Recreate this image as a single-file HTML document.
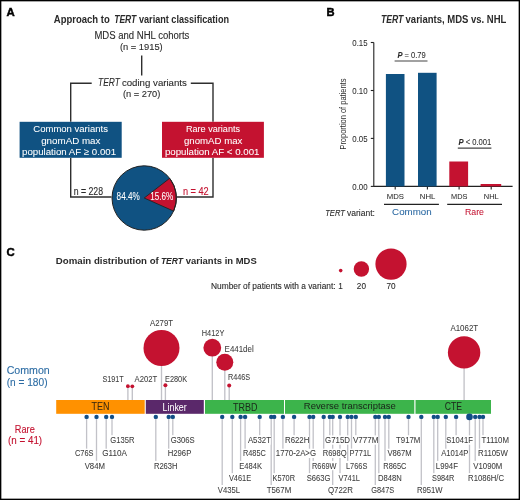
<!DOCTYPE html>
<html><head><meta charset="utf-8"><style>
html,body{margin:0;padding:0;background:#fff;}
svg{display:block;filter:blur(0.35px);}
text{font-family:"Liberation Sans", sans-serif;}
</style></head><body>
<svg width="520" height="500" viewBox="0 0 520 500">
<rect width="520" height="500" fill="#fff"/>
<text x="6.6" y="16.1" font-size="11.4" fill="#000" stroke="#000" stroke-width="0.45" font-weight="bold">A</text>
<text x="53.8" y="22.5" font-size="10" font-weight="bold" fill="#2a2a2a" textLength="56.0" lengthAdjust="spacingAndGlyphs">Approach to</text>
<text x="114.2" y="22.5" font-size="10" font-weight="bold" font-style="italic" fill="#2a2a2a" textLength="22.1" lengthAdjust="spacingAndGlyphs">TERT</text>
<text x="139" y="22.5" font-size="10" font-weight="bold" fill="#2a2a2a" textLength="90" lengthAdjust="spacingAndGlyphs">variant classification</text>
<text x="94.4" y="38.9" font-size="10" fill="#2a2a2a" stroke="#2a2a2a" stroke-width="0.1" textLength="95" lengthAdjust="spacingAndGlyphs">MDS and NHL cohorts</text>
<text x="119.9" y="50.2" font-size="9.6" fill="#2a2a2a" stroke="#2a2a2a" stroke-width="0.1" textLength="42.8" lengthAdjust="spacingAndGlyphs">(n = 1915)</text>
<g stroke="#2e2e2e" stroke-width="1.4" fill="none">
<path d="M141.7 55.5 V75.5"/>
<path d="M70.7 121.8 V83.3 H91.7"/>
<path d="M190.8 83.3 H213 V121.8"/>
<path d="M70.7 157.8 V197 H111.5"/>
<path d="M213 157.8 V197 H176.8"/>
</g>
<text x="98.1" y="86.4" font-size="10.4" font-style="italic" fill="#2a2a2a" stroke="#2a2a2a" stroke-width="0.1" textLength="21.7" lengthAdjust="spacingAndGlyphs">TERT</text>
<text x="121.9" y="86.4" font-size="9.8" fill="#2a2a2a" stroke="#2a2a2a" stroke-width="0.1" textLength="65.0" lengthAdjust="spacingAndGlyphs">coding variants</text>
<text x="122.9" y="96.5" font-size="9.6" fill="#2a2a2a" stroke="#2a2a2a" stroke-width="0.1" textLength="37.5" lengthAdjust="spacingAndGlyphs">(n = 270)</text>
<rect x="19.6" y="121.8" width="102.1" height="36" fill="#105282"/>
<rect x="162" y="121.8" width="101.9" height="36" fill="#c41230"/>
<text x="33.3" y="132.4" font-size="9.5" fill="#fff" stroke="#fff" stroke-width="0.06" textLength="74.6" lengthAdjust="spacingAndGlyphs">Common variants</text>
<text x="41.2" y="143.5" font-size="9.5" fill="#fff" stroke="#fff" stroke-width="0.06" textLength="59.2" lengthAdjust="spacingAndGlyphs">gnomAD max</text>
<text x="22" y="154.5" font-size="9.5" fill="#fff" stroke="#fff" stroke-width="0.06" textLength="94.1" lengthAdjust="spacingAndGlyphs">population AF ≥ 0.001</text>
<text x="185.9" y="132.4" font-size="9.5" fill="#fff" stroke="#fff" stroke-width="0.06" textLength="54.2" lengthAdjust="spacingAndGlyphs">Rare variants</text>
<text x="184" y="143.5" font-size="9.5" fill="#fff" stroke="#fff" stroke-width="0.06" textLength="58.4" lengthAdjust="spacingAndGlyphs">gnomAD max</text>
<text x="164.9" y="154.5" font-size="9.5" fill="#fff" stroke="#fff" stroke-width="0.06" textLength="94.6" lengthAdjust="spacingAndGlyphs">population AF &lt; 0.001</text>
<text x="73.7" y="194.5" font-size="10.2" fill="#2a2a2a" stroke="#2a2a2a" stroke-width="0.1" textLength="29.4" lengthAdjust="spacingAndGlyphs">n = 228</text>
<text x="182.9" y="194.5" font-size="10.2" fill="#c41230" stroke="#c41230" stroke-width="0.1" textLength="25.8" lengthAdjust="spacingAndGlyphs">n = 42</text>
<circle cx="144.2" cy="198" r="32.2" fill="#105282"/>
<path d="M144.2 198 L169.68 178.31 A32.2 32.2 0 0 1 173.62 211.10 Z" fill="#c41230" stroke="#222" stroke-width="0.9" stroke-linejoin="miter"/>
<circle cx="144.2" cy="198" r="32.2" fill="none" stroke="#222" stroke-width="1"/>
<text x="116.6" y="199.9" font-size="10.2" fill="#fff" stroke="#fff" stroke-width="0.06" textLength="23.2" lengthAdjust="spacingAndGlyphs">84.4%</text>
<text x="150.2" y="199.9" font-size="10.2" fill="#fff" stroke="#fff" stroke-width="0.06" textLength="23" lengthAdjust="spacingAndGlyphs">15.6%</text>
<text x="326.6" y="16.1" font-size="11.2" fill="#000" stroke="#000" stroke-width="0.45" font-weight="bold">B</text>
<text x="381" y="22.7" font-size="10" font-weight="bold" font-style="italic" fill="#2a2a2a" textLength="22.4" lengthAdjust="spacingAndGlyphs">TERT</text>
<text x="405.6" y="22.7" font-size="10" font-weight="bold" fill="#2a2a2a" textLength="100.8" lengthAdjust="spacingAndGlyphs">variants, MDS vs. NHL</text>
<g stroke="#222" stroke-width="1.1" fill="none">
<path d="M373.8 42.5 V186.4 H512.6"/>
<path d="M370.8 42.5 H373.8"/>
<path d="M370.8 90.5 H373.8"/>
<path d="M370.8 138.4 H373.8"/>
<path d="M370.8 186.4 H373.8"/>
<path d="M395.2 186.4 V189.4"/>
<path d="M427.4 186.4 V189.4"/>
<path d="M459.1 186.4 V189.4"/>
<path d="M491.2 186.4 V189.4"/>
</g>
<text x="367.6" y="45.6" font-size="8.8" fill="#2a2a2a" stroke="#2a2a2a" stroke-width="0.05" text-anchor="end" textLength="15.3" lengthAdjust="spacingAndGlyphs">0.15</text>
<text x="367.6" y="93.6" font-size="8.8" fill="#2a2a2a" stroke="#2a2a2a" stroke-width="0.05" text-anchor="end" textLength="15.3" lengthAdjust="spacingAndGlyphs">0.10</text>
<text x="367.6" y="141.5" font-size="8.8" fill="#2a2a2a" stroke="#2a2a2a" stroke-width="0.05" text-anchor="end" textLength="15.3" lengthAdjust="spacingAndGlyphs">0.05</text>
<text x="367.6" y="189.5" font-size="8.8" fill="#2a2a2a" stroke="#2a2a2a" stroke-width="0.05" text-anchor="end" textLength="15.3" lengthAdjust="spacingAndGlyphs">0.00</text>
<text transform="translate(346.4 149.6) rotate(-90)" font-size="8.6" fill="#2a2a2a" textLength="71" lengthAdjust="spacingAndGlyphs">Proportion of patients</text>
<rect x="385.9" y="74" width="18.6" height="112.4" fill="#105282"/>
<rect x="418" y="72.8" width="18.6" height="113.6" fill="#105282"/>
<rect x="449.3" y="161.5" width="18.8" height="24.9" fill="#c41230"/>
<rect x="480.6" y="184" width="20.6" height="2.4" fill="#c41230"/>
<path d="M394.6 61 H427.5 M457.8 148.1 H491.4" stroke="#444" stroke-width="1.1"/>
<path d="M384 204.4 H438.9 M447.2 204.4 H502" stroke="#222" stroke-width="1.1"/>
<text x="397.4" y="57.9" font-size="8.6" fill="#2a2a2a" stroke="#2a2a2a" stroke-width="0.06" textLength="28.4" lengthAdjust="spacingAndGlyphs"><tspan font-weight="bold" font-style="italic">P</tspan> = 0.79</text>
<text x="458.4" y="144.9" font-size="8.6" fill="#2a2a2a" stroke="#2a2a2a" stroke-width="0.06" textLength="33" lengthAdjust="spacingAndGlyphs"><tspan font-weight="bold" font-style="italic">P</tspan> &lt; 0.001</text>
<text x="386.8" y="198.6" font-size="7.9" fill="#2a2a2a" stroke="#2a2a2a" stroke-width="0.04" textLength="17.2" lengthAdjust="spacingAndGlyphs">MDS</text>
<text x="419.8" y="198.6" font-size="7.9" fill="#2a2a2a" stroke="#2a2a2a" stroke-width="0.04" textLength="15.5" lengthAdjust="spacingAndGlyphs">NHL</text>
<text x="451" y="198.6" font-size="7.9" fill="#2a2a2a" stroke="#2a2a2a" stroke-width="0.04" textLength="16.4" lengthAdjust="spacingAndGlyphs">MDS</text>
<text x="483.8" y="198.6" font-size="7.9" fill="#2a2a2a" stroke="#2a2a2a" stroke-width="0.04" textLength="15.0" lengthAdjust="spacingAndGlyphs">NHL</text>
<text x="325.2" y="215.6" font-size="9.4" font-style="italic" fill="#2a2a2a" stroke="#2a2a2a" stroke-width="0.1" textLength="19.8" lengthAdjust="spacingAndGlyphs">TERT</text>
<text x="347" y="215.6" font-size="8.7" fill="#2a2a2a" stroke="#2a2a2a" stroke-width="0.08" textLength="28" lengthAdjust="spacingAndGlyphs">variant:</text>
<text x="392.1" y="215.1" font-size="9.3" fill="#2a68a2" stroke="#2a68a2" stroke-width="0.05" textLength="39.6" lengthAdjust="spacingAndGlyphs">Common</text>
<text x="465" y="215.1" font-size="9.3" fill="#c41230" stroke="#c41230" stroke-width="0.05" textLength="19" lengthAdjust="spacingAndGlyphs">Rare</text>
<text x="6.4" y="255.9" font-size="11.4" fill="#000" stroke="#000" stroke-width="0.45" font-weight="bold">C</text>
<text x="55.8" y="263.9" font-size="9.9" font-weight="bold" fill="#2a2a2a" textLength="103.0" lengthAdjust="spacingAndGlyphs">Domain distribution of</text>
<text x="160.9" y="263.9" font-size="9.9" font-weight="bold" font-style="italic" fill="#2a2a2a" textLength="22.2" lengthAdjust="spacingAndGlyphs">TERT</text>
<text x="185.8" y="263.9" font-size="9.9" font-weight="bold" fill="#2a2a2a" textLength="70.9" lengthAdjust="spacingAndGlyphs">variants in MDS</text>
<circle cx="340.7" cy="270.6" r="1.8" fill="#c41230"/>
<circle cx="361.4" cy="269" r="7.7" fill="#c41230"/>
<circle cx="391" cy="264.1" r="15.6" fill="#c41230"/>
<text x="211" y="289.4" font-size="8.2" fill="#2a2a2a" stroke="#2a2a2a" stroke-width="0.1" textLength="124.6" lengthAdjust="spacingAndGlyphs">Number of patients with a variant:</text>
<text x="340.5" y="289.4" font-size="8.2" fill="#2a2a2a" stroke="#2a2a2a" stroke-width="0.1" text-anchor="middle">1</text>
<text x="361.4" y="289.4" font-size="8.2" fill="#2a2a2a" stroke="#2a2a2a" stroke-width="0.1" text-anchor="middle">20</text>
<text x="391" y="289.4" font-size="8.2" fill="#2a2a2a" stroke="#2a2a2a" stroke-width="0.1" text-anchor="middle">70</text>
<text x="28.2" y="373.7" font-size="10.6" fill="#2c6ca4" stroke="#2c6ca4" stroke-width="0.1" text-anchor="middle" textLength="43.1" lengthAdjust="spacingAndGlyphs">Common</text>
<text x="27.1" y="385.5" font-size="10.2" fill="#2c6ca4" stroke="#2c6ca4" stroke-width="0.1" text-anchor="middle" textLength="40.9" lengthAdjust="spacingAndGlyphs">(n = 180)</text>
<text x="24.8" y="432.9" font-size="10.6" fill="#c41230" stroke="#c41230" stroke-width="0.1" text-anchor="middle" textLength="19.9" lengthAdjust="spacingAndGlyphs">Rare</text>
<text x="25.1" y="444.3" font-size="10.2" fill="#c41230" stroke="#c41230" stroke-width="0.1" text-anchor="middle" textLength="34.1" lengthAdjust="spacingAndGlyphs">(n = 41)</text>
<rect x="56.2" y="400" width="88.5" height="13.8" fill="#ff9100"/>
<rect x="145.8" y="400" width="58" height="13.8" fill="#5a286a"/>
<rect x="205" y="400" width="79" height="13.8" fill="#3cb44b"/>
<rect x="285" y="400" width="129.3" height="13.8" fill="#3cb44b"/>
<rect x="415.5" y="400" width="75.5" height="13.8" fill="#3cb44b"/>
<text x="91.5" y="409.9" font-size="10" fill="#3a2a10" stroke="#3a2a10" stroke-width="0.04" textLength="17.9" lengthAdjust="spacingAndGlyphs">TEN</text>
<text x="162.6" y="410.6" font-size="10" fill="#fff" stroke="#fff" stroke-width="0.03" textLength="24.1" lengthAdjust="spacingAndGlyphs">Linker</text>
<text x="233" y="410.6" font-size="10" fill="#1c2a1c" stroke="#1c2a1c" stroke-width="0.04" textLength="24.4" lengthAdjust="spacingAndGlyphs">TRBD</text>
<text x="303.8" y="409.4" font-size="9.4" fill="#1c2a1c" stroke="#1c2a1c" stroke-width="0.04" textLength="92" lengthAdjust="spacingAndGlyphs">Reverse transcriptase</text>
<text x="444.8" y="409.9" font-size="10" fill="#1c2a1c" stroke="#1c2a1c" stroke-width="0.04" textLength="17.2" lengthAdjust="spacingAndGlyphs">CTE</text>
<path d="M127.9 386.2 V400" stroke="#c2c2c8" stroke-width="1.35"/>
<path d="M132.3 386.3 V400" stroke="#c2c2c8" stroke-width="1.35"/>
<path d="M161.5 348.0 V400" stroke="#c2c2c8" stroke-width="1.35"/>
<path d="M165.4 385.2 V400" stroke="#c2c2c8" stroke-width="1.35"/>
<path d="M212.3 347.7 V400" stroke="#c2c2c8" stroke-width="1.35"/>
<path d="M224.8 362.2 V400" stroke="#c2c2c8" stroke-width="1.35"/>
<path d="M229.2 385.4 V400" stroke="#c2c2c8" stroke-width="1.35"/>
<path d="M464.1 352.4 V400" stroke="#c2c2c8" stroke-width="1.35"/>
<circle cx="127.9" cy="386.2" r="1.9" fill="#c41230"/>
<circle cx="132.3" cy="386.3" r="1.9" fill="#c41230"/>
<circle cx="161.5" cy="348.0" r="18.0" fill="#c41230"/>
<circle cx="165.4" cy="385.2" r="2.0" fill="#c41230"/>
<circle cx="212.3" cy="347.7" r="8.9" fill="#c41230"/>
<circle cx="224.8" cy="362.2" r="8.5" fill="#c41230"/>
<circle cx="229.2" cy="385.4" r="2.0" fill="#c41230"/>
<circle cx="464.1" cy="352.4" r="16.2" fill="#c41230"/>
<text x="102.5" y="382.1" font-size="8.2" fill="#3c3c3c" stroke="#3c3c3c" stroke-width="0.06" textLength="21.2" lengthAdjust="spacingAndGlyphs">S191T</text>
<text x="134.6" y="382.1" font-size="8.2" fill="#3c3c3c" stroke="#3c3c3c" stroke-width="0.06" textLength="22.7" lengthAdjust="spacingAndGlyphs">A202T</text>
<text x="150.0" y="326.3" font-size="8.2" fill="#3c3c3c" stroke="#3c3c3c" stroke-width="0.06" textLength="23.0" lengthAdjust="spacingAndGlyphs">A279T</text>
<text x="165.0" y="382.1" font-size="8.2" fill="#3c3c3c" stroke="#3c3c3c" stroke-width="0.06" textLength="22.1" lengthAdjust="spacingAndGlyphs">E280K</text>
<text x="201.8" y="336.4" font-size="8.2" fill="#3c3c3c" stroke="#3c3c3c" stroke-width="0.06" textLength="22.5" lengthAdjust="spacingAndGlyphs">H412Y</text>
<text x="224.6" y="352.0" font-size="8.2" fill="#3c3c3c" stroke="#3c3c3c" stroke-width="0.06" textLength="29.1" lengthAdjust="spacingAndGlyphs">E441del</text>
<text x="228.0" y="380.2" font-size="8.2" fill="#3c3c3c" stroke="#3c3c3c" stroke-width="0.06" textLength="22.2" lengthAdjust="spacingAndGlyphs">R446S</text>
<text x="450.4" y="330.8" font-size="8.2" fill="#3c3c3c" stroke="#3c3c3c" stroke-width="0.06" textLength="27.8" lengthAdjust="spacingAndGlyphs">A1062T</text>
<path d="M86.6 416.9 V448.9" stroke="#c2c2c8" stroke-width="1.3"/>
<path d="M96.5 416.9 V461.1" stroke="#c2c2c8" stroke-width="1.3"/>
<path d="M106.2 416.9 V448.9" stroke="#c2c2c8" stroke-width="1.3"/>
<path d="M112 416.9 V435.6" stroke="#c2c2c8" stroke-width="1.3"/>
<path d="M155.8 416.9 V461.1" stroke="#c2c2c8" stroke-width="1.3"/>
<path d="M168.7 416.9 V448.9" stroke="#c2c2c8" stroke-width="1.3"/>
<path d="M172.8 416.9 V435.6" stroke="#c2c2c8" stroke-width="1.3"/>
<path d="M222.2 416.9 V485.3" stroke="#c2c2c8" stroke-width="1.3"/>
<path d="M232.3 416.9 V473.5" stroke="#c2c2c8" stroke-width="1.3"/>
<path d="M240.6 416.9 V461.1" stroke="#c2c2c8" stroke-width="1.3"/>
<path d="M245.1 416.9 V448.9" stroke="#c2c2c8" stroke-width="1.3"/>
<path d="M259.7 416.9 V435.6" stroke="#c2c2c8" stroke-width="1.3"/>
<path d="M271.2 416.9 V485.3" stroke="#c2c2c8" stroke-width="1.3"/>
<path d="M274.2 416.9 V473.5" stroke="#c2c2c8" stroke-width="1.3"/>
<path d="M282.9 416.9 V448.9" stroke="#c2c2c8" stroke-width="1.3"/>
<path d="M294.1 416.9 V435.6" stroke="#c2c2c8" stroke-width="1.3"/>
<path d="M309.5 416.9 V473.5" stroke="#c2c2c8" stroke-width="1.3"/>
<path d="M313.2 416.9 V461.1" stroke="#c2c2c8" stroke-width="1.3"/>
<path d="M323.7 416.9 V448.9" stroke="#c2c2c8" stroke-width="1.3"/>
<path d="M329.8 416.9 V435.6" stroke="#c2c2c8" stroke-width="1.3"/>
<path d="M332.7 416.9 V485.3" stroke="#c2c2c8" stroke-width="1.3"/>
<path d="M340 416.9 V473.5" stroke="#c2c2c8" stroke-width="1.3"/>
<path d="M347.7 416.9 V461.1" stroke="#c2c2c8" stroke-width="1.3"/>
<path d="M351.5 416.9 V448.9" stroke="#c2c2c8" stroke-width="1.3"/>
<path d="M355.8 416.9 V435.6" stroke="#c2c2c8" stroke-width="1.3"/>
<path d="M375.3 416.9 V485.3" stroke="#c2c2c8" stroke-width="1.3"/>
<path d="M378.8 416.9 V473.5" stroke="#c2c2c8" stroke-width="1.3"/>
<path d="M385 416.9 V461.1" stroke="#c2c2c8" stroke-width="1.3"/>
<path d="M388.8 416.9 V448.9" stroke="#c2c2c8" stroke-width="1.3"/>
<path d="M408.5 416.9 V435.6" stroke="#c2c2c8" stroke-width="1.3"/>
<path d="M421.3 416.9 V485.3" stroke="#c2c2c8" stroke-width="1.3"/>
<path d="M433.8 416.9 V473.5" stroke="#c2c2c8" stroke-width="1.3"/>
<path d="M437.7 416.9 V461.1" stroke="#c2c2c8" stroke-width="1.3"/>
<path d="M445.8 416.9 V448.9" stroke="#c2c2c8" stroke-width="1.3"/>
<path d="M456.1 416.9 V435.6" stroke="#c2c2c8" stroke-width="1.3"/>
<path d="M469.5 416.9 V473.5" stroke="#c2c2c8" stroke-width="1.3"/>
<path d="M475.2 416.9 V461.1" stroke="#c2c2c8" stroke-width="1.3"/>
<path d="M479.5 416.9 V448.9" stroke="#c2c2c8" stroke-width="1.3"/>
<path d="M483 416.9 V435.6" stroke="#c2c2c8" stroke-width="1.3"/>
<rect x="75.3" y="448.7" width="17.9" height="9.3" fill="#fff"/>
<rect x="85.0" y="460.9" width="19.7" height="9.3" fill="#fff"/>
<rect x="102.6" y="448.7" width="24.1" height="9.3" fill="#fff"/>
<rect x="110.6" y="435.4" width="23.5" height="9.3" fill="#fff"/>
<rect x="154.2" y="460.9" width="23.1" height="9.3" fill="#fff"/>
<rect x="168.0" y="448.7" width="23.0" height="9.3" fill="#fff"/>
<rect x="171.0" y="435.4" width="23.4" height="9.3" fill="#fff"/>
<rect x="218.1" y="485.1" width="21.6" height="9.3" fill="#fff"/>
<rect x="229.2" y="473.3" width="21.7" height="9.3" fill="#fff"/>
<rect x="239.5" y="460.9" width="22.2" height="9.3" fill="#fff"/>
<rect x="243.2" y="448.7" width="22.3" height="9.3" fill="#fff"/>
<rect x="248.2" y="435.4" width="22.5" height="9.3" fill="#fff"/>
<rect x="267.0" y="485.1" width="23.9" height="9.3" fill="#fff"/>
<rect x="272.8" y="473.3" width="21.9" height="9.3" fill="#fff"/>
<rect x="276.1" y="448.7" width="39.6" height="9.3" fill="#fff"/>
<rect x="285.3" y="435.4" width="23.8" height="9.3" fill="#fff"/>
<rect x="307.0" y="473.3" width="23.1" height="9.3" fill="#fff"/>
<rect x="312.3" y="460.9" width="23.9" height="9.3" fill="#fff"/>
<rect x="323.0" y="448.7" width="23.4" height="9.3" fill="#fff"/>
<rect x="325.3" y="435.4" width="24.4" height="9.3" fill="#fff"/>
<rect x="328.2" y="485.1" width="24.4" height="9.3" fill="#fff"/>
<rect x="338.8" y="473.3" width="20.9" height="9.3" fill="#fff"/>
<rect x="346.3" y="460.9" width="20.7" height="9.3" fill="#fff"/>
<rect x="349.9" y="448.7" width="21.0" height="9.3" fill="#fff"/>
<rect x="353.2" y="435.4" width="25.0" height="9.3" fill="#fff"/>
<rect x="371.5" y="485.1" width="22.4" height="9.3" fill="#fff"/>
<rect x="378.2" y="473.3" width="23.2" height="9.3" fill="#fff"/>
<rect x="383.6" y="460.9" width="22.6" height="9.3" fill="#fff"/>
<rect x="387.7" y="448.7" width="23.7" height="9.3" fill="#fff"/>
<rect x="396.3" y="435.4" width="23.8" height="9.3" fill="#fff"/>
<rect x="417.2" y="485.1" width="25.0" height="9.3" fill="#fff"/>
<rect x="432.3" y="473.3" width="21.8" height="9.3" fill="#fff"/>
<rect x="436.1" y="460.9" width="21.5" height="9.3" fill="#fff"/>
<rect x="441.5" y="448.7" width="26.7" height="9.3" fill="#fff"/>
<rect x="446.6" y="435.4" width="26.0" height="9.3" fill="#fff"/>
<rect x="468.4" y="473.3" width="35.3" height="9.3" fill="#fff"/>
<rect x="473.6" y="460.9" width="28.4" height="9.3" fill="#fff"/>
<rect x="478.3" y="448.7" width="29.2" height="9.3" fill="#fff"/>
<rect x="481.7" y="435.4" width="27.0" height="9.3" fill="#fff"/>
<circle cx="86.6" cy="416.9" r="2.2" fill="#124e86"/>
<circle cx="96.5" cy="416.9" r="2.2" fill="#124e86"/>
<circle cx="106.2" cy="416.9" r="2.2" fill="#124e86"/>
<circle cx="112" cy="416.9" r="2.2" fill="#124e86"/>
<circle cx="155.8" cy="416.9" r="2.2" fill="#124e86"/>
<circle cx="168.7" cy="416.9" r="2.2" fill="#124e86"/>
<circle cx="172.8" cy="416.9" r="2.2" fill="#124e86"/>
<circle cx="222.2" cy="416.9" r="2.2" fill="#124e86"/>
<circle cx="232.3" cy="416.9" r="2.2" fill="#124e86"/>
<circle cx="240.6" cy="416.9" r="2.2" fill="#124e86"/>
<circle cx="245.1" cy="416.9" r="2.2" fill="#124e86"/>
<circle cx="259.7" cy="416.9" r="2.2" fill="#124e86"/>
<circle cx="271.2" cy="416.9" r="2.2" fill="#124e86"/>
<circle cx="274.2" cy="416.9" r="2.2" fill="#124e86"/>
<circle cx="282.9" cy="416.9" r="2.2" fill="#124e86"/>
<circle cx="294.1" cy="416.9" r="2.2" fill="#124e86"/>
<circle cx="309.5" cy="416.9" r="2.2" fill="#124e86"/>
<circle cx="313.2" cy="416.9" r="2.2" fill="#124e86"/>
<circle cx="323.7" cy="416.9" r="2.2" fill="#124e86"/>
<circle cx="329.8" cy="416.9" r="2.2" fill="#124e86"/>
<circle cx="332.7" cy="416.9" r="2.2" fill="#124e86"/>
<circle cx="340" cy="416.9" r="2.2" fill="#124e86"/>
<circle cx="347.7" cy="416.9" r="2.2" fill="#124e86"/>
<circle cx="351.5" cy="416.9" r="2.2" fill="#124e86"/>
<circle cx="355.8" cy="416.9" r="2.2" fill="#124e86"/>
<circle cx="375.3" cy="416.9" r="2.2" fill="#124e86"/>
<circle cx="378.8" cy="416.9" r="2.2" fill="#124e86"/>
<circle cx="385" cy="416.9" r="2.2" fill="#124e86"/>
<circle cx="388.8" cy="416.9" r="2.2" fill="#124e86"/>
<circle cx="408.5" cy="416.9" r="2.2" fill="#124e86"/>
<circle cx="421.3" cy="416.9" r="2.2" fill="#124e86"/>
<circle cx="433.8" cy="416.9" r="2.2" fill="#124e86"/>
<circle cx="437.7" cy="416.9" r="2.2" fill="#124e86"/>
<circle cx="445.8" cy="416.9" r="2.2" fill="#124e86"/>
<circle cx="456.1" cy="416.9" r="2.2" fill="#124e86"/>
<circle cx="469.5" cy="416.9" r="3.3" fill="#124e86"/>
<circle cx="475.2" cy="416.9" r="2.2" fill="#124e86"/>
<circle cx="479.5" cy="416.9" r="2.2" fill="#124e86"/>
<circle cx="483" cy="416.9" r="2.2" fill="#124e86"/>
<text x="75" y="456.3" font-size="8.2" fill="#3c3c3c" stroke="#3c3c3c" stroke-width="0.06" textLength="18.5" lengthAdjust="spacingAndGlyphs">C76S</text>
<text x="84.7" y="468.5" font-size="8.2" fill="#3c3c3c" stroke="#3c3c3c" stroke-width="0.06" textLength="20.3" lengthAdjust="spacingAndGlyphs">V84M</text>
<text x="102.3" y="456.3" font-size="8.2" fill="#3c3c3c" stroke="#3c3c3c" stroke-width="0.06" textLength="24.7" lengthAdjust="spacingAndGlyphs">G110A</text>
<text x="110.3" y="443.0" font-size="8.2" fill="#3c3c3c" stroke="#3c3c3c" stroke-width="0.06" textLength="24.1" lengthAdjust="spacingAndGlyphs">G135R</text>
<text x="153.9" y="468.5" font-size="8.2" fill="#3c3c3c" stroke="#3c3c3c" stroke-width="0.06" textLength="23.7" lengthAdjust="spacingAndGlyphs">R263H</text>
<text x="167.7" y="456.3" font-size="8.2" fill="#3c3c3c" stroke="#3c3c3c" stroke-width="0.06" textLength="23.6" lengthAdjust="spacingAndGlyphs">H296P</text>
<text x="170.7" y="443.0" font-size="8.2" fill="#3c3c3c" stroke="#3c3c3c" stroke-width="0.06" textLength="24.0" lengthAdjust="spacingAndGlyphs">G306S</text>
<text x="217.8" y="492.7" font-size="8.2" fill="#3c3c3c" stroke="#3c3c3c" stroke-width="0.06" textLength="22.2" lengthAdjust="spacingAndGlyphs">V435L</text>
<text x="228.9" y="480.9" font-size="8.2" fill="#3c3c3c" stroke="#3c3c3c" stroke-width="0.06" textLength="22.3" lengthAdjust="spacingAndGlyphs">V461E</text>
<text x="239.2" y="468.5" font-size="8.2" fill="#3c3c3c" stroke="#3c3c3c" stroke-width="0.06" textLength="22.8" lengthAdjust="spacingAndGlyphs">E484K</text>
<text x="242.9" y="456.3" font-size="8.2" fill="#3c3c3c" stroke="#3c3c3c" stroke-width="0.06" textLength="22.9" lengthAdjust="spacingAndGlyphs">R485C</text>
<text x="247.9" y="443.0" font-size="8.2" fill="#3c3c3c" stroke="#3c3c3c" stroke-width="0.06" textLength="23.1" lengthAdjust="spacingAndGlyphs">A532T</text>
<text x="266.7" y="492.7" font-size="8.2" fill="#3c3c3c" stroke="#3c3c3c" stroke-width="0.06" textLength="24.5" lengthAdjust="spacingAndGlyphs">T567M</text>
<text x="272.5" y="480.9" font-size="8.2" fill="#3c3c3c" stroke="#3c3c3c" stroke-width="0.06" textLength="22.5" lengthAdjust="spacingAndGlyphs">K570R</text>
<text x="275.8" y="456.3" font-size="8.2" fill="#3c3c3c" stroke="#3c3c3c" stroke-width="0.06" textLength="40.2" lengthAdjust="spacingAndGlyphs">1770-2A&gt;G</text>
<text x="285" y="443.0" font-size="8.2" fill="#3c3c3c" stroke="#3c3c3c" stroke-width="0.06" textLength="24.4" lengthAdjust="spacingAndGlyphs">R622H</text>
<text x="306.7" y="480.9" font-size="8.2" fill="#3c3c3c" stroke="#3c3c3c" stroke-width="0.06" textLength="23.7" lengthAdjust="spacingAndGlyphs">S663G</text>
<text x="312" y="468.5" font-size="8.2" fill="#3c3c3c" stroke="#3c3c3c" stroke-width="0.06" textLength="24.5" lengthAdjust="spacingAndGlyphs">R669W</text>
<text x="322.7" y="456.3" font-size="8.2" fill="#3c3c3c" stroke="#3c3c3c" stroke-width="0.06" textLength="24.0" lengthAdjust="spacingAndGlyphs">R698Q</text>
<text x="325" y="443.0" font-size="8.2" fill="#3c3c3c" stroke="#3c3c3c" stroke-width="0.06" textLength="25" lengthAdjust="spacingAndGlyphs">G715D</text>
<text x="327.9" y="492.7" font-size="8.2" fill="#3c3c3c" stroke="#3c3c3c" stroke-width="0.06" textLength="25.0" lengthAdjust="spacingAndGlyphs">Q722R</text>
<text x="338.5" y="480.9" font-size="8.2" fill="#3c3c3c" stroke="#3c3c3c" stroke-width="0.06" textLength="21.5" lengthAdjust="spacingAndGlyphs">V741L</text>
<text x="346" y="468.5" font-size="8.2" fill="#3c3c3c" stroke="#3c3c3c" stroke-width="0.06" textLength="21.3" lengthAdjust="spacingAndGlyphs">L766S</text>
<text x="349.6" y="456.3" font-size="8.2" fill="#3c3c3c" stroke="#3c3c3c" stroke-width="0.06" textLength="21.6" lengthAdjust="spacingAndGlyphs">P771L</text>
<text x="352.9" y="443.0" font-size="8.2" fill="#3c3c3c" stroke="#3c3c3c" stroke-width="0.06" textLength="25.6" lengthAdjust="spacingAndGlyphs">V777M</text>
<text x="371.2" y="492.7" font-size="8.2" fill="#3c3c3c" stroke="#3c3c3c" stroke-width="0.06" textLength="23.0" lengthAdjust="spacingAndGlyphs">G847S</text>
<text x="377.9" y="480.9" font-size="8.2" fill="#3c3c3c" stroke="#3c3c3c" stroke-width="0.06" textLength="23.8" lengthAdjust="spacingAndGlyphs">D848N</text>
<text x="383.3" y="468.5" font-size="8.2" fill="#3c3c3c" stroke="#3c3c3c" stroke-width="0.06" textLength="23.2" lengthAdjust="spacingAndGlyphs">R865C</text>
<text x="387.4" y="456.3" font-size="8.2" fill="#3c3c3c" stroke="#3c3c3c" stroke-width="0.06" textLength="24.3" lengthAdjust="spacingAndGlyphs">V867M</text>
<text x="396" y="443.0" font-size="8.2" fill="#3c3c3c" stroke="#3c3c3c" stroke-width="0.06" textLength="24.4" lengthAdjust="spacingAndGlyphs">T917M</text>
<text x="416.9" y="492.7" font-size="8.2" fill="#3c3c3c" stroke="#3c3c3c" stroke-width="0.06" textLength="25.6" lengthAdjust="spacingAndGlyphs">R951W</text>
<text x="432" y="480.9" font-size="8.2" fill="#3c3c3c" stroke="#3c3c3c" stroke-width="0.06" textLength="22.4" lengthAdjust="spacingAndGlyphs">S984R</text>
<text x="435.8" y="468.5" font-size="8.2" fill="#3c3c3c" stroke="#3c3c3c" stroke-width="0.06" textLength="22.1" lengthAdjust="spacingAndGlyphs">L994F</text>
<text x="441.2" y="456.3" font-size="8.2" fill="#3c3c3c" stroke="#3c3c3c" stroke-width="0.06" textLength="27.3" lengthAdjust="spacingAndGlyphs">A1014P</text>
<text x="446.3" y="443.0" font-size="8.2" fill="#3c3c3c" stroke="#3c3c3c" stroke-width="0.06" textLength="26.6" lengthAdjust="spacingAndGlyphs">S1041F</text>
<text x="468.1" y="480.9" font-size="8.2" fill="#3c3c3c" stroke="#3c3c3c" stroke-width="0.06" textLength="35.9" lengthAdjust="spacingAndGlyphs">R1086H/C</text>
<text x="473.3" y="468.5" font-size="8.2" fill="#3c3c3c" stroke="#3c3c3c" stroke-width="0.06" textLength="29.0" lengthAdjust="spacingAndGlyphs">V1090M</text>
<text x="478" y="456.3" font-size="8.2" fill="#3c3c3c" stroke="#3c3c3c" stroke-width="0.06" textLength="29.8" lengthAdjust="spacingAndGlyphs">R1105W</text>
<text x="481.4" y="443.0" font-size="8.2" fill="#3c3c3c" stroke="#3c3c3c" stroke-width="0.06" textLength="27.6" lengthAdjust="spacingAndGlyphs">T1110M</text>
<rect x="0" y="0" width="520" height="500" fill="none" stroke="#000" stroke-width="2.7"/>
</svg>
</body></html>
